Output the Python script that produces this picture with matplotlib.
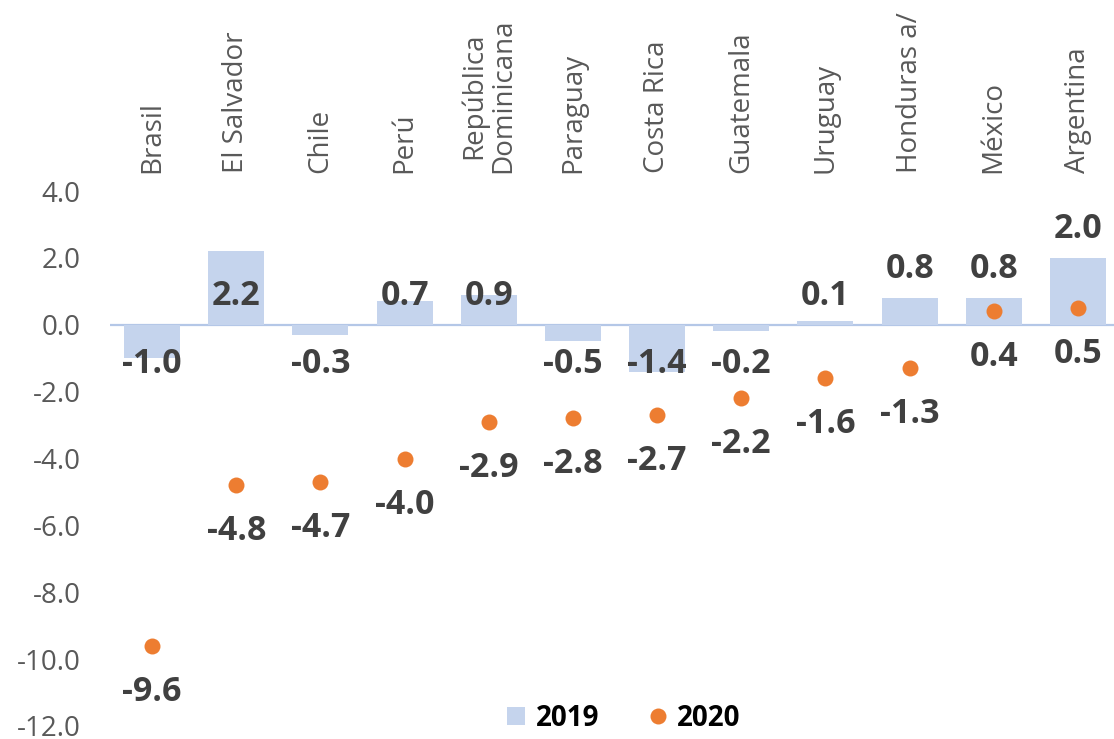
import matplotlib
matplotlib.use("Agg")
import matplotlib.pyplot as plt
from matplotlib.lines import Line2D

plt.rcParams['font.family'] = ['Open Sans', 'DejaVu Sans']

countries = ["Brasil", "El Salvador", "Chile", "Perú", "República\nDominicana",
             "Paraguay", "Costa Rica", "Guatemala", "Uruguay", "Honduras a/",
             "México", "Argentina"]
v2019 = [-1.0, 2.2, -0.3, 0.7, 0.9, -0.5, -1.4, -0.2, 0.1, 0.8, 0.8, 2.0]
v2020 = [-9.6, -4.8, -4.7, -4.0, -2.9, -2.8, -2.7, -2.2, -1.6, -1.3, 0.4, 0.5]
y_ticks = [-12, -10, -8, -6, -4, -2, 0, 2, 4]

# label baseline placement for 2019 values (layout)
label19_base = [-1.43, 0.6, -1.43, 0.6, 0.6, -1.43, -1.43, -1.43, 0.6, 1.4, 1.4, 2.6]

bar_color = "#C5D4ED"
dot_color = "#ED7D31"
lbl_color = "#404040"
tick_color = "#595959"

fig = plt.figure(figsize=(11.14, 7.39), dpi=100)
ax = fig.add_axes([110/1114, 13/739, 1010/1114, 535/739])

x = list(range(len(countries)))
ax.axhline(0, color="#B4C7E7", lw=1.6, zorder=1)
ax.bar(x, v2019, width=0.667, color=bar_color, zorder=2)
ax.plot(x, v2020, linestyle="none", marker="o", markersize=11.5,
        color=dot_color, markeredgewidth=0, zorder=4)

for i, (v, b) in enumerate(zip(v2019, label19_base)):
    ax.text(i, b, f"{v:.1f}", ha="center", va="baseline", fontsize=24.5,
            fontweight="bold", color=lbl_color, zorder=5)
for i, v in enumerate(v2020):
    ax.annotate(f"{v:.1f}", (i, v), xytext=(0, -39.6), textcoords="offset points",
                ha="center", va="baseline", fontsize=24.5, fontweight="bold",
                color=lbl_color, zorder=5)

ax.set_xlim(-0.5, len(countries) - 0.5)
ax.set_ylim(-12, 4)
ax.set_yticks(y_ticks)
ax.set_yticklabels([f"{t:.1f}" for t in y_ticks])
ax.xaxis.tick_top()
ax.set_xticks(x)
ax.set_xticklabels(countries, rotation=90, linespacing=1.05)
ax.tick_params(axis="x", length=0, pad=13, labelsize=20, labelcolor=tick_color)
ax.tick_params(axis="y", length=0, pad=21, labelsize=20, labelcolor=tick_color)
for s in ax.spines.values():
    s.set_visible(False)

handles = [
    Line2D([], [], linestyle="none", marker="s", markersize=13, color=bar_color, markeredgewidth=0),
    Line2D([], [], linestyle="none", marker="o", markersize=11.5, color=dot_color, markeredgewidth=0),
]
leg = fig.legend(handles, ["2019", "2020"], loc="center", bbox_to_anchor=(623/1114, 1 - 718/739),
                 ncol=2, frameon=False, handlelength=0.8, handletextpad=0.3, columnspacing=1.7,
                 prop={"size": 20, "weight": "bold"})
for t in leg.get_texts():
    t.set_color("black")

fig.savefig("out.png", dpi=100)
